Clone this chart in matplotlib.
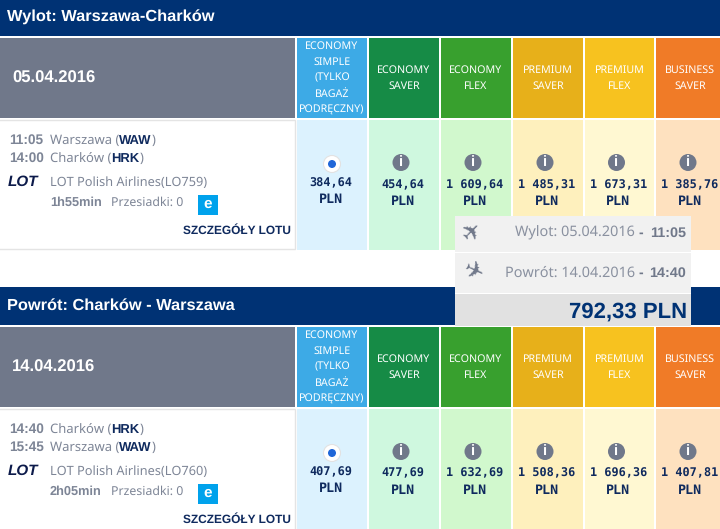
import matplotlib
matplotlib.use("Agg")
import matplotlib.pyplot as plt
from matplotlib.patches import Rectangle, Circle

plt.rcParams['font.family'] = ['Noto Sans', 'DejaVu Sans']
plt.rcParams['text.hinting'] = 'no_hinting'

BOLD = ['Liberation Sans', 'DejaVu Sans']
NAVY = "#003274"
GREY = "#70788a"
TEXT = "#7d8596"
DARK = "#0f2a5e"

# fare columns
fare_names = [
    "ECONOMY\nSIMPLE\n(TYLKO\nBAGAŻ\nPODRĘCZNY)",
    "ECONOMY\nSAVER",
    "ECONOMY\nFLEX",
    "PREMIUM\nSAVER",
    "PREMIUM\nFLEX",
    "BUSINESS\nSAVER",
]
head_colors = ["#3daae6", "#168b46", "#38a02e", "#e7b01a", "#f7c21f", "#f07b27"]
cell_colors = ["#dcf2fe", "#cff8df", "#d1f8cd", "#fef0bd", "#fff8d2", "#fee1bf"]
col_left = [297, 369, 441, 513, 585, 656]
col_right = [367, 439, 511, 583, 654, 720]

# flights
titles = ["Wylot: Warszawa-Charków", "Powrót: Charków - Warszawa"]
dates = ["05.04.2016", "14.04.2016"]
times = [["11:05", "14:00"], ["14:40", "15:45"]]
cities = [[("Warszawa", "WAW"), ("Charków", "HRK")], [("Charków", "HRK"), ("Warszawa", "WAW")]]
airline = ["LOT Polish Airlines(LO759)", "LOT Polish Airlines(LO760)"]
durations = ["1h55min", "2h05min"]
prices = [
    ["384,64", "454,64", "1 609,64", "1 485,31", "1 673,31", "1 385,76"],
    ["407,69", "477,69", "1 632,69", "1 508,36", "1 696,36", "1 407,81"],
]
section_tops = [0, 289]

fig = plt.figure(figsize=(7.2, 5.29), dpi=100)
ax = fig.add_axes([0, 0, 1, 1])
ax.set_xlim(0, 720)
ax.set_ylim(529, 0)
ax.axis("off")


def rect(x0, y0, x1, y1, color, z=1):
    ax.add_patch(Rectangle((x0, y0), x1 - x0, y1 - y0, facecolor=color, edgecolor="none", zorder=z))


def pieces(x, y, parts, size, z=3):
    # text runs with mixed colour and weight, one after the other
    r = fig.canvas.get_renderer()
    for s, color, weight in parts:
        fam = BOLD if weight == "bold" else plt.rcParams['font.family']
        t = ax.text(x, y, s, color=color, family=fam, fontweight=weight, fontsize=size, va="baseline", ha="left", zorder=z)
        x += t.get_window_extent(r).width


def draw_section(i):
    top = section_tops[i]
    head_top = 0 if i == 0 else 287
    rect(0, head_top, 720, top + 36, NAVY)
    ax.text(7, top + 17, titles[i], color="white", family=BOLD, fontsize=11.8, fontweight="bold", va="center")
    rect(0, top + 38, 295, top + 118, GREY)
    ax.text(12, top + 78, dates[i], color="white", family=BOLD, fontsize=12, fontweight="bold", va="center")
    # flight box
    ax.add_patch(Rectangle((-2, top + 120), 297, 129, facecolor="white", edgecolor="#e4e4e4", lw=1, zorder=1))
    for k in range(2):
        y = top + 144 + k * 18
        ax.text(9, y, times[i][k], color=TEXT, family=BOLD, fontsize=9.8, fontweight="bold", va="baseline")
        pieces(50, y, [(cities[i][k][0] + " (", TEXT, "normal"), (cities[i][k][1], DARK, "bold"), (")", TEXT, "normal")], 9.4)
    ax.text(8, top + 182, "LOT", color="#0c1a4a", family=BOLD, fontsize=11, fontweight="bold", style="italic", va="center")
    ax.text(50, top + 186, airline[i], color=TEXT, fontsize=9.2, va="baseline")
    ax.text(50, top + 206, durations[i], color=TEXT, family=BOLD, fontsize=9.2, fontweight="bold", va="baseline")
    ax.text(111, top + 206, "Przesiadki: 0", color=TEXT, fontsize=8.9, va="baseline")
    rect(198, top + 195, 218, top + 215, "#00a2ec", z=2)
    ax.text(207.5, top + 204, "e", color="white", family=BOLD, fontsize=11, fontweight="bold", ha="center", va="center", zorder=3)
    ax.text(291, top + 231, "SZCZEGÓŁY LOTU", color=DARK, family=BOLD, fontsize=8.6, fontweight="bold", ha="right", va="center")
    # fare columns
    for c in range(len(fare_names)):
        x0, x1 = col_left[c], col_right[c]
        rect(x0, top + 38, x1, top + 118, head_colors[c])
        rect(x0, top + 120, x1, top + 250, cell_colors[c])
        cx = (x0 + x1) / 2 if c < 5 else 690
        name_lines = fare_names[c].split("\n")
        y0 = top + 78 - (len(name_lines) - 1) * 8
        for n, line in enumerate(name_lines):
            ax.text(cx, y0 + n * 16, line, color="white", fontsize=7.7, ha="center", va="center", zorder=3)
        if c == 0:
            ax.add_patch(Circle((cx, top + 164), 8.5, facecolor="white", edgecolor="#e2e2e2", lw=0.8, zorder=3))
            ax.add_patch(Circle((cx, top + 164), 4, facecolor="#1f66d8", edgecolor="none", zorder=4))
            py = top + 183
        else:
            ix = cx - 3 if c < 5 else 688
            ax.add_patch(Circle((ix, top + 162.5), 8.5, facecolor=GREY, edgecolor="none", zorder=3))
            ax.text(ix, top + 162.5, "i", color="white", family=BOLD, fontsize=10.5, fontweight="bold",
                    ha="center", va="center", zorder=4)
            py = top + 184.5
        px = cx - 1 if c < 5 else 690
        ax.text(px, py, prices[i][c], color=DARK, fontsize=8.6, family="DejaVu Sans Mono", fontweight="bold",
                ha="center", va="center", zorder=3)
        ax.text(px, py + 16.5, "PLN", color=DARK, fontsize=9.6, family="DejaVu Sans Mono", fontweight="bold",
                ha="center", va="center", zorder=3)


for i in range(2):
    draw_section(i)

# summary popup
popup_dep = ["Wylot: 05.04.2016", "11:05"]
popup_ret = ["Powrót: 14.04.2016", "14:40"]
total = "792,33 PLN"

rect(455, 216, 691, 327, "white", z=5)
rect(455, 216, 691, 252, "#f1f1f1", z=5)
rect(455, 253, 691, 293, "#f1f1f1", z=5)
rect(455, 294, 691, 326, "#e1e1e1", z=5)
ax.text(472, 232, "✈", color=GREY, fontsize=17, family="DejaVu Sans", rotation=45, ha="center", va="center", zorder=6)
ax.text(473, 272, "✈", color=GREY, fontsize=17, family="DejaVu Sans", rotation=-25, ha="center", va="center", zorder=6)
for y, row in [(236.5, popup_dep), (276.5, popup_ret)]:
    ax.text(686, y, row[1], color=GREY, family=BOLD, fontsize=10.4, fontweight="bold", ha="right", va="baseline", zorder=6)
    ax.text(635, y, row[0], color="#8a91a0", fontsize=10.4, ha="right", va="baseline", zorder=6)
    ax.text(641, y, "-", color=GREY, family=BOLD, fontsize=10, fontweight="bold", ha="center", va="baseline", zorder=6)
ax.text(687, 312, total, color=NAVY, family=BOLD, fontsize=15.9, fontweight="bold", ha="right", va="center", zorder=6)

fig.savefig("out.png", dpi=100)
